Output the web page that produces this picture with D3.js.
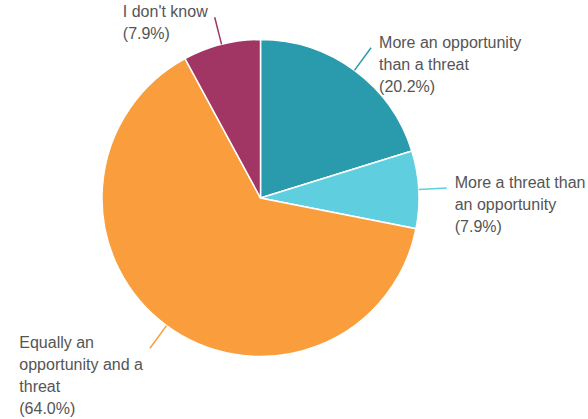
<!DOCTYPE html>
<html>
<head>
<meta charset="utf-8">
<script src="https://cdn.jsdelivr.net/npm/d3@7"></script>
<style>
  html, body { margin: 0; padding: 0; background: #fff; }
  svg { display: block; }
</style>
</head>
<body>
<svg id="chart" width="588" height="419"></svg>
<script>
// Survey answers, clockwise from 12 o'clock
const categories = [
  "More an opportunity than a threat",
  "More a threat than an opportunity",
  "Equally an opportunity and a threat",
  "I don't know"
];
const values = [20.2, 7.9, 64.0, 7.9];
const colors = ["#2a9bac", "#5fcfe0", "#f99d3d", "#a13563"];

const svg = d3.select("#chart");
const cx = 260.5, cy = 198, radius = 158.5;
const leader = 28;          // length of the leader line beyond the rim
const lineH = 22;           // label line height
const maxLabelWidth = 145;  // wrap width for label text

const data = categories.map((c, i) => ({ name: c, value: values[i], color: colors[i] }));

const pie = d3.pie().sort(null).value(d => d.value);
const arcs = pie(data);
const arc = d3.arc().innerRadius(0).outerRadius(radius);

const g = svg.append("g").attr("transform", `translate(${cx},${cy})`);

g.selectAll("path.slice")
  .data(arcs)
  .join("path")
  .attr("class", "slice")
  .attr("d", arc)
  .attr("fill", d => d.data.color)
  .attr("stroke", "#fff")
  .attr("stroke-width", 1.5);

// Leader lines and labels
const fmt = v => `(${v.toFixed(1)}%)`;

// Split a label into lines no wider than maxLabelWidth
function wrapWords(text, measure) {
  const words = text.split(" ");
  const lines = [];
  let cur = "";
  words.forEach(w => {
    const next = cur ? cur + " " + w : w;
    if (cur && measure(next) > maxLabelWidth) {
      lines.push(cur);
      cur = w;
    } else {
      cur = next;
    }
  });
  if (cur) lines.push(cur);
  return lines;
}

const measurer = svg.append("text")
  .attr("font-family", "Liberation Sans, Arial, sans-serif")
  .attr("font-size", 16)
  .attr("visibility", "hidden");
const measure = s => { measurer.text(s); return measurer.node().getComputedTextLength(); };

arcs.forEach(d => {
  const a = (d.startAngle + d.endAngle) / 2;
  const sx = Math.sin(a), sy = -Math.cos(a);
  const p0 = [sx * radius, sy * radius];
  const p1 = [sx * (radius + leader), sy * (radius + leader)];

  g.append("line")
    .attr("x1", p0[0]).attr("y1", p0[1])
    .attr("x2", p1[0]).attr("y2", p1[1])
    .attr("stroke", d.data.color)
    .attr("stroke-width", 1.5);

  const lines = wrapWords(d.data.name, measure).concat([fmt(d.data.value)]);
  const right = sx >= 0;
  const blockW = d3.max(lines, measure);
  const x0 = right ? p1[0] + 8 : p1[0] - 7 - blockW;
  const y0 = p1[1];

  const t = g.append("text")
    .attr("font-family", "Liberation Sans, Arial, sans-serif")
    .attr("font-size", 16)
    .attr("fill", "#555");
  lines.forEach((ln, i) => {
    t.append("tspan")
      .attr("x", x0)
      .attr("y", y0 + i * lineH)
      .text(ln);
  });
});

measurer.remove();
</script>
</body>
</html>
